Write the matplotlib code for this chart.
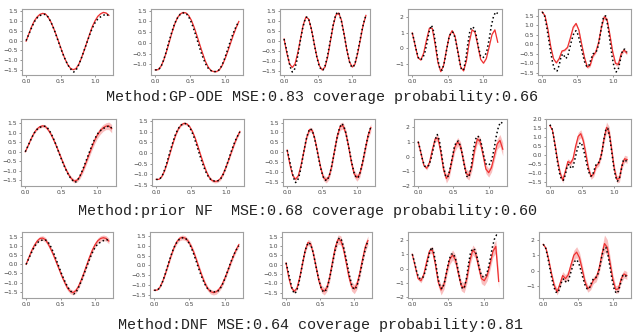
import numpy as np
import matplotlib
matplotlib.use("Agg")
import matplotlib.pyplot as plt
from matplotlib.ticker import MultipleLocator

# time grids
t_true = np.round(np.arange(41) * 0.03, 2)
t_pred = np.round(np.arange(31) * 0.04, 2)

# ground truth trajectories (black dots), one per column
truth_1 = [0.0, 0.25, 0.5, 0.75, 0.97, 1.13, 1.24, 1.3, 1.34, 1.35, 1.3, 1.15, 0.95, 0.7,
           0.43, 0.12, -0.18, -0.48, -0.75, -1.0, -1.22, -1.4, -1.52, -1.62, -1.55, -1.35,
           -1.1, -0.82, -0.52, -0.22, 0.08, 0.38, 0.64, 0.86, 1.03, 1.14, 1.22, 1.28, 1.33,
           1.36, 1.25]
truth_2 = [-1.25, -1.26, -1.2, -1.05, -0.8, -0.5, -0.15, 0.2, 0.52, 0.82, 1.05, 1.22, 1.33,
           1.39, 1.4, 1.35, 1.22, 1.02, 0.77, 0.48, 0.17, -0.15, -0.45, -0.72, -0.95, -1.13,
           -1.25, -1.3, -1.33, -1.33, -1.3, -1.2, -1.02, -0.78, -0.5, -0.2, 0.1, 0.38, 0.62,
           0.82, 1.0]
truth_3 = [0.1, -0.35, -0.85, -1.3, -1.55, -1.45, -1.1, -0.55, 0.05, 0.6, 1.0, 1.2, 1.1, 0.75,
           0.25, -0.3, -0.8, -1.2, -1.42, -1.45, -1.25, -0.85, -0.32, 0.25, 0.8, 1.22, 1.45,
           1.35, 1.0, 0.5, -0.05, -0.6, -1.05, -1.3, -1.28, -1.0, -0.55, -0.02, 0.5, 0.95, 1.28]
truth_4 = [1.0, 0.45, -0.2, -0.65, -0.72, -0.6, -0.2, 0.45, 1.15, 1.5, 1.1, 0.2, -0.75, -1.35,
           -1.4, -0.9, -0.15, 0.6, 1.0, 1.05, 0.7, 0.05, -0.75, -1.35, -1.4, -0.75, 0.3, 1.15,
           1.4, 1.3, 0.8, 0.05, -0.5, -0.6, -0.5, -0.1, 0.6, 1.45, 2.05, 2.35, 2.25]
truth_5 = [1.7, 1.55, 1.0, 0.3, -0.4, -1.0, -1.35, -1.4, -1.1, -0.6, -0.5, -0.75, -0.65, -0.2,
           0.25, 0.6, 0.72, 0.5, 0.05, -0.45, -0.9, -1.15, -1.15, -0.8, -0.5, -0.45, -0.3, 0.2,
           0.9, 1.45, 1.5, 1.0, 0.2, -0.6, -1.2, -1.45, -1.3, -0.8, -0.3, -0.25, -0.4]
truths = [truth_1, truth_2, truth_3, truth_4, truth_5]

# GP-ODE predicted means and half-widths
gpode_mean = [
    [-0.03, 0.35, 0.72, 1.02, 1.22, 1.35, 1.4, 1.37, 1.2, 0.95, 0.62, 0.25, -0.15, -0.55, -0.92,
     -1.22, -1.42, -1.5, -1.45, -1.25, -0.92, -0.52, -0.1, 0.32, 0.72, 1.02, 1.25, 1.38, 1.45,
     1.42, 1.3],
    [-1.25, -1.24, -1.1, -0.82, -0.42, 0.02, 0.48, 0.88, 1.18, 1.35, 1.42, 1.4, 1.28, 1.05, 0.72,
     0.33, -0.08, -0.48, -0.85, -1.12, -1.28, -1.33, -1.33, -1.25, -1.05, -0.75, -0.4, -0.02,
     0.36, 0.7, 1.0],
    [0.1, -0.6, -1.15, -1.32, -1.15, -0.6, 0.1, 0.8, 1.2, 1.1, 0.6, -0.1, -0.78, -1.25, -1.45,
     -1.3, -0.78, 0.0, 0.78, 1.3, 1.4, 1.05, 0.35, -0.45, -1.05, -1.3, -1.15, -0.6, 0.1, 0.8, 1.28],
    [1.0, 0.2, -0.6, -0.75, -0.3, 0.55, 1.3, 1.3, 0.3, -0.9, -1.5, -1.1, -0.1, 0.8, 1.15, 0.8,
     -0.2, -1.2, -1.45, -0.8, 0.4, 1.2, 1.05, 0.2, -0.7, -0.95, -0.65, 0.1, 0.9, 1.2, 0.4],
    [1.7, 1.5, 0.8, -0.1, -0.75, -0.97, -0.75, -0.35, -0.3, -0.15, 0.35, 0.9, 1.1, 0.75, 0.0,
     -0.7, -1.2, -1.1, -0.6, -0.4, 0.1, 0.9, 1.45, 1.3, 0.5, -0.4, -1.0, -1.05, -0.5, -0.3, -0.45],
]
gpode_band = [
    [0.0] + [0.02] * 30,
    [0.0] + [0.02] * 30,
    [0.0] + [0.02] * 30,
    [0.0] + [0.02] * 30,
    [0.0, 0.02, 0.03, 0.03, 0.04, 0.04, 0.04, 0.05, 0.05, 0.05, 0.05, 0.06, 0.06, 0.06, 0.07,
     0.07, 0.08, 0.08, 0.08, 0.08, 0.08, 0.08, 0.1, 0.1, 0.1, 0.1, 0.1, 0.1, 0.1, 0.1, 0.1],
]

# prior NF
prior_mean = [
    [0.0, 0.33, 0.68, 0.98, 1.2, 1.32, 1.37, 1.33, 1.15, 0.9, 0.58, 0.22, -0.16, -0.54, -0.9,
     -1.2, -1.42, -1.55, -1.5, -1.3, -0.98, -0.6, -0.2, 0.2, 0.58, 0.88, 1.1, 1.26, 1.35, 1.37,
     1.22],
    [-1.25, -1.25, -1.12, -0.85, -0.45, 0.0, 0.46, 0.86, 1.16, 1.34, 1.41, 1.38, 1.25, 1.02, 0.7,
     0.3, -0.12, -0.52, -0.88, -1.15, -1.3, -1.35, -1.33, -1.22, -1.0, -0.68, -0.32, 0.05, 0.42,
     0.75, 1.02],
    [0.1, -0.65, -1.2, -1.38, -1.2, -0.65, 0.05, 0.75, 1.15, 1.1, 0.62, -0.08, -0.8, -1.3, -1.42,
     -1.25, -0.7, 0.1, 0.85, 1.3, 1.35, 0.98, 0.3, -0.5, -1.1, -1.3, -1.12, -0.55, 0.15, 0.85,
     1.25],
    [1.0, 0.2, -0.6, -0.8, -0.4, 0.45, 1.2, 1.25, 0.3, -0.9, -1.5, -1.15, -0.2, 0.65, 1.0, 0.7,
     -0.25, -1.15, -1.3, -0.7, 0.45, 1.2, 1.0, 0.1, -0.85, -1.1, -0.75, 0.05, 0.85, 1.1, 0.5],
    [1.65, 1.4, 0.6, -0.3, -1.0, -1.4, -0.9, -0.35, -0.45, -0.2, 0.5, 1.05, 1.2, 0.8, 0.05,
     -0.75, -1.2, -1.05, -0.6, -0.45, 0.05, 0.9, 1.55, 1.3, 0.3, -0.75, -1.35, -1.3, -0.55, -0.2,
     -0.25],
]
prior_band = [
    [0.01, 0.03, 0.05, 0.06, 0.07, 0.08, 0.08, 0.08, 0.09, 0.1, 0.1, 0.1, 0.1, 0.1, 0.1, 0.1,
     0.1, 0.1, 0.1, 0.12, 0.14, 0.15, 0.16, 0.17, 0.18, 0.18, 0.18, 0.18, 0.18, 0.2, 0.22],
    [0.0, 0.01, 0.02, 0.03, 0.04, 0.05, 0.05, 0.06, 0.06, 0.06, 0.06, 0.06, 0.06, 0.06, 0.06,
     0.06, 0.07, 0.07, 0.07, 0.07, 0.07, 0.07, 0.07, 0.08, 0.08, 0.08, 0.08, 0.08, 0.08, 0.08,
     0.08],
    [0.0, 0.04, 0.06, 0.08, 0.08, 0.08, 0.1, 0.1, 0.12, 0.12, 0.12, 0.12, 0.14, 0.15, 0.15,
     0.15, 0.15, 0.16, 0.16, 0.18, 0.18, 0.18, 0.18, 0.18, 0.18, 0.18, 0.18, 0.18, 0.2, 0.2, 0.2],
    [0.0, 0.05, 0.1, 0.12, 0.15, 0.18, 0.2, 0.22, 0.25, 0.28, 0.3, 0.3, 0.3, 0.3, 0.3, 0.3, 0.3,
     0.3, 0.3, 0.3, 0.3, 0.3, 0.3, 0.3, 0.3, 0.3, 0.3, 0.32, 0.35, 0.4, 0.45],
    [0.0, 0.03, 0.08, 0.12, 0.15, 0.15, 0.15, 0.15, 0.15, 0.18, 0.2, 0.22, 0.22, 0.22, 0.22,
     0.2, 0.15, 0.15, 0.15, 0.15, 0.2, 0.25, 0.3, 0.3, 0.25, 0.2, 0.2, 0.2, 0.2, 0.2, 0.2],
]

# DNF
dnf_mean = [
    [0.0, 0.38, 0.75, 1.05, 1.28, 1.42, 1.44, 1.35, 1.12, 0.82, 0.48, 0.1, -0.28, -0.66, -1.0,
     -1.3, -1.48, -1.55, -1.45, -1.2, -0.85, -0.45, -0.02, 0.4, 0.78, 1.08, 1.3, 1.42, 1.46, 1.42,
     1.28],
    [-1.25, -1.24, -1.1, -0.8, -0.4, 0.05, 0.5, 0.9, 1.2, 1.37, 1.42, 1.38, 1.24, 1.0, 0.68, 0.28,
     -0.14, -0.55, -0.9, -1.17, -1.32, -1.37, -1.33, -1.2, -0.98, -0.66, -0.3, 0.08, 0.45, 0.78,
     1.05],
    [0.1, -0.7, -1.25, -1.42, -1.25, -0.68, 0.05, 0.78, 1.2, 1.12, 0.6, -0.12, -0.85, -1.3, -1.42,
     -1.22, -0.65, 0.15, 0.92, 1.35, 1.32, 0.88, 0.15, -0.62, -1.15, -1.3, -1.05, -0.45, 0.28,
     0.95, 1.3],
    [1.0, 0.15, -0.7, -0.85, -0.4, 0.5, 1.25, 1.3, 0.3, -0.95, -1.5, -1.1, -0.15, 0.65, 0.95, 0.6,
     -0.35, -1.2, -1.35, -0.65, 0.55, 1.3, 1.05, 0.15, -0.7, -0.85, -0.5, 0.3, 1.2, 1.55, -0.9],
    [1.7, 1.45, 0.7, -0.2, -0.95, -1.35, -0.85, -0.3, -0.5, -0.25, 0.4, 1.0, 1.2, 0.85, 0.1, -0.7,
     -1.15, -1.0, -0.6, -0.45, 0.1, 1.0, 1.75, 1.5, 0.5, -0.55, -1.2, -1.15, -0.5, -0.2, -0.3],
]
dnf_band = [
    [0.01, 0.05, 0.08, 0.1, 0.12, 0.12, 0.13, 0.13, 0.13, 0.13, 0.13, 0.13, 0.13, 0.13, 0.13,
     0.13, 0.13, 0.13, 0.14, 0.14, 0.14, 0.15, 0.15, 0.15, 0.15, 0.15, 0.15, 0.15, 0.15, 0.15,
     0.15],
    [0.0, 0.02, 0.04, 0.06, 0.08, 0.08, 0.1, 0.1, 0.12, 0.12, 0.12, 0.12, 0.12, 0.12, 0.12, 0.12,
     0.12, 0.12, 0.12, 0.12, 0.12, 0.12, 0.12, 0.12, 0.12, 0.12, 0.12, 0.12, 0.12, 0.12, 0.12],
    [0.0, 0.05, 0.08, 0.1, 0.1, 0.12, 0.14, 0.15, 0.16, 0.16, 0.16, 0.18, 0.2, 0.2, 0.2, 0.2,
     0.22, 0.22, 0.24, 0.25, 0.25, 0.25, 0.25, 0.25, 0.25, 0.25, 0.25, 0.25, 0.25, 0.25, 0.25],
    [0.0, 0.05, 0.1, 0.15, 0.18, 0.2, 0.22, 0.25, 0.28, 0.3, 0.35, 0.35, 0.35, 0.35, 0.35, 0.35,
     0.35, 0.35, 0.35, 0.35, 0.35, 0.35, 0.35, 0.35, 0.35, 0.35, 0.35, 0.38, 0.4, 0.45, 0.5],
    [0.0, 0.05, 0.1, 0.15, 0.2, 0.2, 0.25, 0.25, 0.25, 0.28, 0.3, 0.32, 0.35, 0.35, 0.3, 0.25,
     0.22, 0.22, 0.22, 0.25, 0.3, 0.4, 0.55, 0.5, 0.4, 0.3, 0.25, 0.25, 0.25, 0.25, 0.25],
]

means = [gpode_mean, prior_mean, dnf_mean]
bands = [gpode_band, prior_band, dnf_band]
captions = ["Method:GP-ODE MSE:0.83 coverage probability:0.66",
            "Method:prior NF  MSE:0.68 coverage probability:0.60",
            "Method:DNF MSE:0.64 coverage probability:0.81"]
ytick_step = [[0.5, 0.5, 0.5, 1, 0.5],
              [0.5, 0.5, 0.5, 1, 0.5],
              [0.5, 0.5, 0.5, 1, 1]]

# panel boxes in pixels
W, H = 633, 335
row_y = [(9, 75), (119, 186), (232, 298)]
row_x = [
    [(22, 113), (151, 243), (280, 370), (408, 502), (538, 631)],
    [(21, 116), (152, 244), (283, 375), (414, 507), (546, 631)],
    [(22, 113), (150, 243), (282, 372), (408, 503), (539, 631)],
]
caption_pos = [(322, 97), (307, 211), (320, 325)]

fig = plt.figure(figsize=(W / 100, H / 100), dpi=100)

for r in range(3):
    y0, y1 = row_y[r]
    for c in range(5):
        x0, x1 = row_x[r][c]
        ax = fig.add_axes([x0 / W, 1 - y1 / H, (x1 - x0) / W, (y1 - y0) / H])
        m = np.array(means[r][c])
        b = np.array(bands[r][c])
        ax.fill_between(t_pred, m - b, m + b, color="#f8b4b4", lw=0, alpha=0.85)
        ax.plot(t_pred, m, color="#ee3030", lw=0.9)
        # ground truth as a dense dotted trace through the read-off points
        ax.plot(t_true, truths[c], color="k", lw=1.1, ls=(0, (1, 1.7)))
        ax.set_xticks([0.0, 0.5, 1.0])
        ax.yaxis.set_major_locator(MultipleLocator(ytick_step[r][c]))
        ax.tick_params(labelsize=4.3, length=1.5, width=0.4, pad=1.5,
                       colors="#444444")
        for s in ax.spines.values():
            s.set_color("#a0a0a0")
            s.set_linewidth(0.8)
    cx, cy = caption_pos[r]
    fig.text(cx / W, 1 - cy / H, captions[r], ha="center", va="center",
             family="Liberation Mono", fontsize=10.8, color="#222222")

fig.savefig("out.png", dpi=100)
